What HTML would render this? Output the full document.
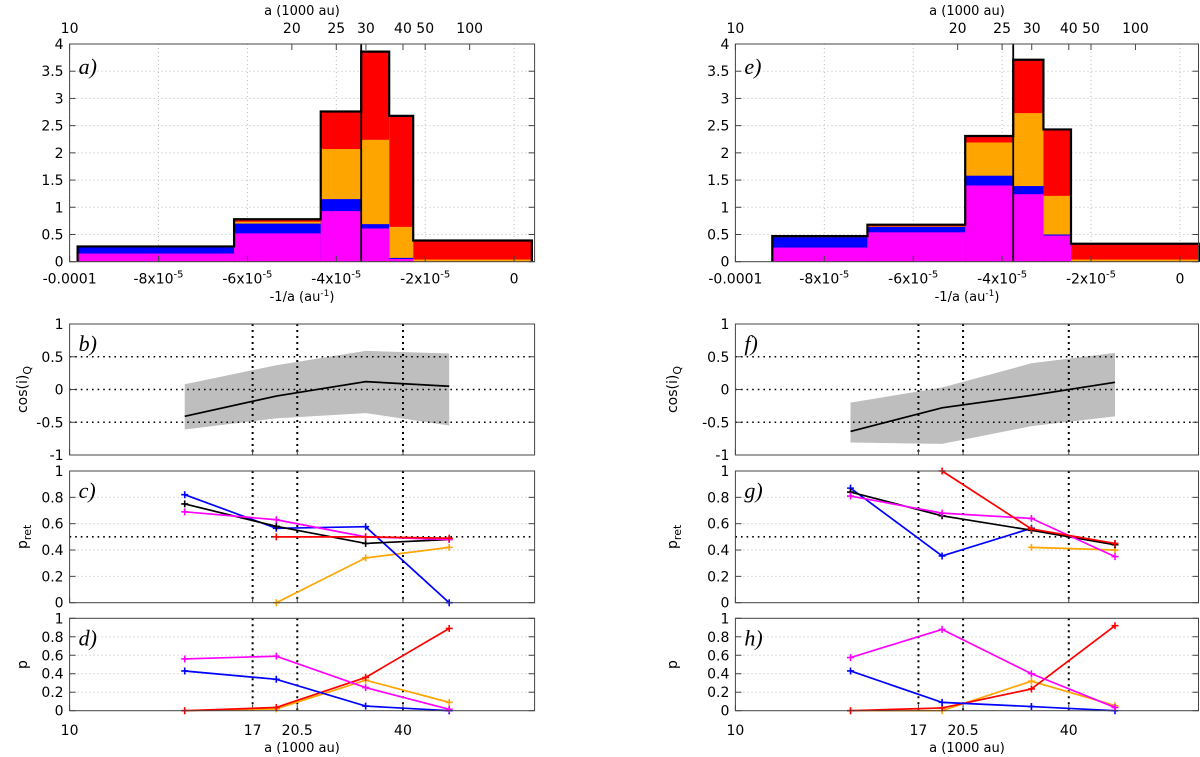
<!DOCTYPE html>
<html><head><meta charset="utf-8"><style>
html,body{margin:0;padding:0;background:#fff;}
svg{display:block;font-family:"DejaVu Sans","Liberation Sans",sans-serif;}
</style></head><body>
<svg id="fig" width="1200" height="757" viewBox="0 0 1200 757" xmlns="http://www.w3.org/2000/svg"></svg>
<script>
// ---------- data (x values in units of 1e-5 of -1/a) ----------
const histEdgesL = [-9.82,-6.3,-4.35,-3.44,-2.81,-2.27,0.4];
const histMagentaL = [0.15,0.52,0.93,0.61,0.05,0];
const histBlueL = [0.27,0.70,1.15,0.69,0.07,0];
const histOrangeL = [0.27,0.735,2.07,2.24,0.64,0.04];
const histTotalL = [0.28,0.78,2.76,3.86,2.68,0.39];
const vlineL = -3.44;

const histEdgesR = [-9.17,-7.03,-4.83,-3.75,-3.07,-2.45,0.45];
const histMagentaR = [0.26,0.54,1.40,1.24,0.48,0];
const histBlueR = [0.45,0.64,1.58,1.39,0.50,0];
const histOrangeR = [0.45,0.65,2.19,2.73,1.21,0.04];
const histTotalR = [0.47,0.68,2.31,3.71,2.43,0.33];
const vlineR = -3.75;

const ptX = [-7.41,-5.35,-3.34,-1.46];
// left b,c,d
const cosMeanL = [-0.41,-0.10,0.12,0.05];
const cosUpL = [0.08,0.37,0.59,0.55];
const cosLoL = [-0.61,-0.44,-0.36,-0.55];
const pretBlackL = [0.75,0.58,0.45,0.48];
const pretBlueL = [0.82,0.565,0.577,0];
const pretMagentaL = [0.69,0.63,0.50,0.48];
const pretRedL = [null,0.50,0.50,0.49];
const pretOrangeL = [null,0,0.34,0.42];
const pMagentaL = [0.56,0.59,0.25,0.015];
const pBlueL = [0.43,0.34,0.05,0];
const pRedL = [0,0.035,0.36,0.89];
const pOrangeL = [0,0.02,0.33,0.09];
// right f,g,h
const cosMeanR = [-0.64,-0.28,-0.09,0.11];
const cosUpR = [-0.20,0.03,0.40,0.56];
const cosLoR = [-0.81,-0.83,-0.56,-0.41];
const pretBlackR = [0.84,0.66,0.55,0.44];
const pretBlueR = [0.87,0.355,0.565,null];
const pretMagentaR = [0.81,0.68,0.64,0.35];
const pretRedR = [null,1.0,0.56,0.45];
const pretOrangeR = [null,null,0.42,0.40];
const pMagentaR = [0.575,0.88,0.40,0.035];
const pBlueR = [0.43,0.09,0.045,0];
const pRedR = [0,0.03,0.235,0.92];
const pOrangeR = [0,0,0.32,0.055];

const topTicksA = [10,20,25,30,40,50,100];
const botTicksA = [10,17,20.5,40];
const vDotA = [17,20.5,40];
const histXTicks = [-10,-8,-6,-4,-2,0];
const histXLabels = ["-0.0001","-8x10","-6x10","-4x10","-2x10","0"];
const histYTicks = [0,0.5,1,1.5,2,2.5,3,3.5,4];
const cosTicks = [-1,-0.5,0,0.5,1];
const pTicks = [0,0.2,0.4,0.6,0.8,1];

// ---------- helpers ----------
const NS="http://www.w3.org/2000/svg";
const svg=document.getElementById('fig');
function mk(tag,attrs,parent){const e=document.createElementNS(NS,tag);for(const k in attrs)e.setAttribute(k,attrs[k]);(parent||svg).appendChild(e);return e;}
function txt(x,y,s,anchor,size,parent,extra){const t=mk('text',Object.assign({x:x,y:y,'text-anchor':anchor||'middle','font-size':size||13,fill:'#000'},extra||{}),parent);t.textContent=s;return t;}

const COL={magenta:'#ff00ff',blue:'#0000ff',orange:'#ffa500',red:'#ff0000',black:'#000'};

function buildSide(side){
  const L = side==='L';
  const x0 = L?69.6:735.4, xr = L?534.6:1198.5, k=44.45;
  const X = v => x0 + (v+10)*k;
  const XA = a => X(-100/a);
  const g = mk('g',{});
  
  
  // ---- histogram ----
  const hT=44, hB=261.7, Yh = v => hB - v/4*(hB-hT);
  const edges=L?histEdgesL:histEdgesR, mag=L?histMagentaL:histMagentaR, blu=L?histBlueL:histBlueR, ora=L?histOrangeL:histOrangeR, tot=L?histTotalL:histTotalR;
  const hg=mk('g',{},g);
  
  
  histXTicks.forEach(v=>{const l=mk('line',{x1:X(v),x2:X(v),y1:hT,y2:hB,stroke:'#bbb','stroke-dasharray':'1,3'},hg);});
  histYTicks.forEach(v=>{const l=mk('line',{x1:x0,x2:xr,y1:Yh(v),y2:Yh(v),stroke:'#bbb','stroke-dasharray':'1,3'},hg);});
  const layers=[[tot,COL.red,'red'],[ora,COL.orange,'orange'],[blu,COL.blue,'blue'],[mag,COL.magenta,'magenta']];
  layers.forEach(([arr,c,nm])=>{
    arr.forEach((v,i)=>{ if(v<=0) return;
      const r=mk('rect',{x:X(edges[i]),y:Yh(v),width:X(edges[i+1])-X(edges[i]),height:hB-Yh(v),fill:c},hg);
      
      
    });
  });
  let d='M'+X(edges[0])+','+hB;
  tot.forEach((v,i)=>{d+=' L'+X(edges[i])+','+Yh(v)+' L'+X(edges[i+1])+','+Yh(v);});
  d+=' L'+X(edges[edges.length-1])+','+hB;
  const ol=mk('path',{d:d,fill:'none',stroke:'#000','stroke-width':2.2},hg);
  
  const vl=mk('line',{x1:X(L?vlineL:vlineR),x2:X(L?vlineL:vlineR),y1:hT,y2:hB,stroke:'#000','stroke-width':1.8},hg);
  
  const fr=mk('rect',{x:x0,y:hT,width:xr-x0,height:hB-hT,fill:'none',stroke:'#444','stroke-width':1},hg);
  
  histYTicks.forEach(v=>{mk('line',{x1:x0,x2:x0+6,y1:Yh(v),y2:Yh(v),stroke:'#444'},hg);mk('line',{x1:xr,x2:xr-6,y1:Yh(v),y2:Yh(v),stroke:'#444'},hg);
    const t=txt(x0-6,Yh(v)+5,String(v),'end',14,hg);});
  histXTicks.forEach((v,i)=>{mk('line',{x1:X(v),x2:X(v),y1:hB,y2:hB-6,stroke:'#444'},hg);
    const t=txt(X(v),hB+22,histXLabels[i],'middle',14,hg);
    if(i>0&&i<5){const s=mk('tspan',{dy:-6,'font-size':10},t);s.textContent='-5';}
    });
  topTicksA.forEach(a=>{mk('line',{x1:XA(a),x2:XA(a),y1:hT,y2:hT+6,stroke:'#444'},hg);
    const t=txt(XA(a),33,String(a),'middle',14,hg);});
  const cx=L?302:967;
  let t=txt(cx,15,'a (1000 au)','middle',13,hg);
  t=txt(cx,301,'-1/a (au','middle',13,hg);const sp=mk('tspan',{dy:-5,'font-size':9},t);sp.textContent='-1';const sp2=mk('tspan',{dy:5},t);sp2.textContent=')';
  
  t=txt(x0+9,74,L?'a)':'e)','start',22,hg,{'font-family':'"Liberation Serif",serif','font-style':'italic'});

  // ---- lower panels ----
  function panel(name,top,bot,ymin,ymax,ticks,label,letter,grey,blackDots){
    const pg=mk('g',{},g);
    
    
    const Y=v=>bot-(v-ymin)/(ymax-ymin)*(bot-top);
    grey.forEach(v=>{mk('line',{x1:x0,x2:xr,y1:Y(v),y2:Y(v),stroke:'#bbb','stroke-dasharray':'1,3'},pg);});
    blackDots.forEach(v=>{mk('line',{x1:x0,x2:xr,y1:Y(v),y2:Y(v),stroke:'#000','stroke-width':1.6,'stroke-dasharray':'1.6,4'},pg);});
    vDotA.forEach(a=>{const l=mk('line',{x1:XA(a),x2:XA(a),y1:top,y2:bot,stroke:'#000','stroke-width':2,'stroke-dasharray':'2,4'},pg);});
    ticks.forEach(v=>{mk('line',{x1:x0,x2:x0+6,y1:Y(v),y2:Y(v),stroke:'#444'},pg);mk('line',{x1:xr,x2:xr-6,y1:Y(v),y2:Y(v),stroke:'#444'},pg);
      const t=txt(x0-6,Y(v)+5,String(v),'end',14,pg);});
    botTicksA.forEach(a=>{mk('line',{x1:XA(a),x2:XA(a),y1:bot,y2:bot-6,stroke:'#444'},pg);});
    const yl=mk('text',{x:0,y:0,'font-size':14,'text-anchor':'middle',transform:'translate('+(L?27:677)+','+((top+bot)/2)+') rotate(-90)'},pg);
    yl.textContent=label[0]; if(label[1]){const s=mk('tspan',{dy:4,'font-size':11},yl);s.textContent=label[1];}
    
    const lt=txt(x0+9,top+27,letter,'start',22,pg,{'font-family':'"Liberation Serif",serif','font-style':'italic'});
    
    return {pg,Y};
  }
  function series(p,vals,color,nm,marks){
    let d='';let started=false;
    vals.forEach((v,i)=>{if(v===null){started=false;return;} d+=(started?' L':' M')+X(ptX[i])+','+p.Y(v);started=true;});
    const s=mk('path',{d:d,fill:'none',stroke:color,'stroke-width':1.7},p.pg);
    
    if(marks!==false) vals.forEach((v,i)=>{if(v===null)return;const x=X(ptX[i]),y=p.Y(v);
      const m=mk('path',{d:'M'+(x-3.5)+','+y+' h7 M'+x+','+(y-3.5)+' v7',stroke:color,'stroke-width':1.6},p.pg);
      });
  }
  function frame(p,top,bot){const f=mk('rect',{x:x0,y:top,width:xr-x0,height:bot-top,fill:'none',stroke:'#444'},p.pg);}

  const pb=panel(L?'panel-b-cos':'panel-f-cos',324,455,-1,1,cosTicks,['cos(i)','Q'],L?'b)':'f)',[],[-0.5,0,0.5]);
  const up=L?cosUpL:cosUpR, lo=L?cosLoL:cosLoR;
  let bd='M'+up.map((v,i)=>X(ptX[i])+','+pb.Y(v)).join(' L');
  bd+=' L'+lo.map((v,i)=>X(ptX[i])+','+pb.Y(v)).reverse().join(' L')+' Z';
  const band=mk('path',{d:bd,fill:'#bebebe'},pb.pg);
  
  pb.pg.insertBefore(band,pb.pg.firstChild);
  series(pb,L?cosMeanL:cosMeanR,'#000','cos-mean',false);
  frame(pb,324,455);
  const pc=panel(L?'panel-c-pret':'panel-g-pret',471,602.7,0,1,pTicks,['p','ret'],L?'c)':'g)',[0.2,0.4,0.6,0.8],[0.5]);
  series(pc,L?pretOrangeL:pretOrangeR,COL.orange,'orange');
  series(pc,L?pretBlueL:pretBlueR,COL.blue,'blue');
  series(pc,L?pretBlackL:pretBlackR,'#000','black');
  series(pc,L?pretMagentaL:pretMagentaR,COL.magenta,'magenta');
  series(pc,L?pretRedL:pretRedR,COL.red,'red');
  frame(pc,471,602.7);
  const pd=panel(L?'panel-d-p':'panel-h-p',618.3,710.7,0,1,pTicks,['p'],L?'d)':'h)',[0.2,0.4,0.6,0.8],[]);
  series(pd,L?pOrangeL:pOrangeR,COL.orange,'orange');
  series(pd,L?pRedL:pRedR,COL.red,'red');
  series(pd,L?pBlueL:pBlueR,COL.blue,'blue');
  series(pd,L?pMagentaL:pMagentaR,COL.magenta,'magenta');
  frame(pd,618.3,710.7);
  botTicksA.forEach(a=>{const t=txt(XA(a),735,String(a),'middle',14,g);});
  t=txt(cx,752,'a (1000 au)','middle',13,g);
}
buildSide('L');
buildSide('R');
</script>
</body></html>
